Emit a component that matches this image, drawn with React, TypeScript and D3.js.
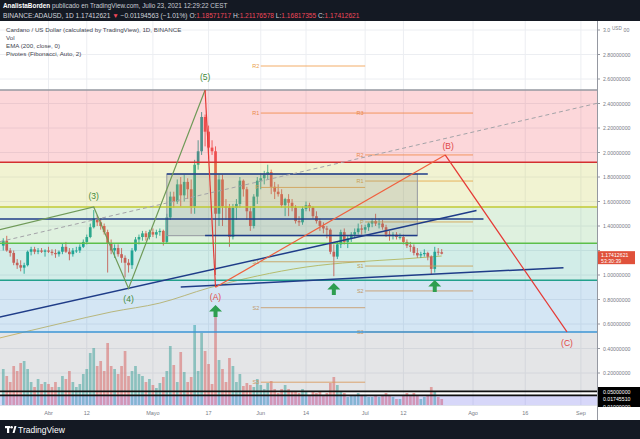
import { useEffect, useRef } from "react";
import * as d3 from "d3";

const W = 640;
const H = 439;

// ADA/USD daily candles from 2021-03-19 to 2021-07-23: [open, high, low, close]
const candleStart = "2021-03-19";
const candles = [
  [1.24, 1.30, 1.20, 1.28], [1.28, 1.32, 1.19, 1.20], [1.20, 1.22, 1.15, 1.18], [1.18, 1.20, 1.08, 1.10],
  [1.10, 1.13, 1.05, 1.08], [1.08, 1.12, 1.03, 1.06], [1.06, 1.10, 1.01, 1.08], [1.08, 1.20, 1.07, 1.19],
  [1.19, 1.23, 1.16, 1.21], [1.21, 1.23, 1.17, 1.19], [1.19, 1.22, 1.17, 1.20], [1.20, 1.22, 1.18, 1.19],
  [1.19, 1.21, 1.15, 1.20],
  // April
  [1.20, 1.23, 1.18, 1.19], [1.19, 1.21, 1.16, 1.18], [1.18, 1.21, 1.14, 1.17], [1.17, 1.20, 1.15, 1.19],
  [1.19, 1.26, 1.17, 1.23], [1.23, 1.27, 1.18, 1.19], [1.19, 1.22, 1.12, 1.17], [1.17, 1.22, 1.15, 1.20],
  [1.20, 1.23, 1.18, 1.20], [1.20, 1.25, 1.18, 1.23], [1.23, 1.29, 1.22, 1.27], [1.27, 1.33, 1.25, 1.31],
  [1.31, 1.42, 1.30, 1.39], [1.39, 1.53, 1.38, 1.46], [1.46, 1.49, 1.40, 1.43], [1.43, 1.46, 1.37, 1.40],
  [1.40, 1.42, 1.33, 1.35], [1.35, 1.37, 1.02, 1.26], [1.26, 1.29, 1.17, 1.20], [1.20, 1.25, 1.14, 1.22],
  [1.22, 1.25, 1.15, 1.17], [1.17, 1.22, 1.10, 1.14], [1.14, 1.16, 0.98, 1.10], [1.10, 1.13, 1.02, 1.08],
  [1.08, 1.22, 1.05, 1.20], [1.20, 1.31, 1.19, 1.29], [1.29, 1.33, 1.25, 1.31], [1.31, 1.36, 1.28, 1.34],
  [1.34, 1.36, 1.28, 1.31], [1.31, 1.37, 1.29, 1.35],
  // May
  [1.35, 1.38, 1.31, 1.33], [1.33, 1.37, 1.30, 1.35], [1.35, 1.38, 1.32, 1.36], [1.36, 1.37, 1.24, 1.27],
  [1.27, 1.50, 1.26, 1.47], [1.47, 1.68, 1.45, 1.64], [1.64, 1.68, 1.55, 1.60], [1.60, 1.78, 1.58, 1.74],
  [1.74, 1.80, 1.56, 1.65], [1.65, 1.82, 1.60, 1.76], [1.76, 1.79, 1.62, 1.70], [1.70, 1.78, 1.50, 1.56],
  [1.56, 1.94, 1.50, 1.90], [1.90, 2.10, 1.86, 2.01], [2.01, 2.33, 1.98, 2.29], [2.29, 2.31, 2.05, 2.17],
  [2.17, 2.22, 1.95, 2.04], [2.04, 2.10, 1.98, 2.01], [2.01, 2.05, 1.00, 1.50], [1.50, 1.82, 1.40, 1.78],
  [1.78, 1.82, 1.40, 1.56], [1.56, 1.62, 1.45, 1.55], [1.55, 1.58, 1.23, 1.31], [1.31, 1.58, 1.29, 1.55],
  [1.55, 1.62, 1.45, 1.58], [1.58, 1.80, 1.55, 1.77], [1.77, 1.78, 1.64, 1.70], [1.70, 1.72, 1.45, 1.52],
  [1.52, 1.56, 1.36, 1.40], [1.40, 1.66, 1.38, 1.64], [1.64, 1.80, 1.58, 1.77],
  // June
  [1.77, 1.83, 1.70, 1.79], [1.79, 1.85, 1.74, 1.82], [1.82, 1.90, 1.78, 1.84], [1.84, 1.86, 1.66, 1.72],
  [1.72, 1.76, 1.62, 1.68], [1.68, 1.74, 1.64, 1.66], [1.66, 1.70, 1.55, 1.57], [1.57, 1.63, 1.48, 1.62],
  [1.62, 1.66, 1.48, 1.59], [1.59, 1.62, 1.52, 1.55], [1.55, 1.57, 1.42, 1.44], [1.44, 1.48, 1.40, 1.43],
  [1.43, 1.56, 1.41, 1.54], [1.54, 1.60, 1.52, 1.57], [1.57, 1.59, 1.52, 1.55], [1.55, 1.56, 1.46, 1.48],
  [1.48, 1.52, 1.42, 1.44], [1.44, 1.46, 1.36, 1.40], [1.40, 1.43, 1.34, 1.38], [1.38, 1.40, 1.30, 1.37],
  [1.37, 1.38, 1.17, 1.19], [1.19, 1.25, 0.99, 1.15], [1.15, 1.27, 1.13, 1.25], [1.25, 1.37, 1.22, 1.35],
  [1.35, 1.38, 1.25, 1.27], [1.27, 1.32, 1.22, 1.30], [1.30, 1.35, 1.27, 1.33], [1.33, 1.38, 1.30, 1.35],
  [1.35, 1.42, 1.33, 1.38], [1.38, 1.41, 1.33, 1.37],
  // July
  [1.37, 1.41, 1.34, 1.39], [1.39, 1.43, 1.36, 1.42], [1.42, 1.46, 1.39, 1.44], [1.44, 1.50, 1.40, 1.42],
  [1.42, 1.46, 1.38, 1.42], [1.42, 1.45, 1.37, 1.39], [1.39, 1.41, 1.31, 1.33], [1.33, 1.36, 1.28, 1.32],
  [1.32, 1.35, 1.29, 1.33], [1.33, 1.35, 1.29, 1.31], [1.31, 1.34, 1.29, 1.31], [1.31, 1.33, 1.25, 1.27],
  [1.27, 1.29, 1.22, 1.24], [1.24, 1.27, 1.19, 1.23], [1.23, 1.25, 1.16, 1.18], [1.18, 1.22, 1.14, 1.16],
  [1.16, 1.19, 1.14, 1.17], [1.17, 1.21, 1.15, 1.18], [1.18, 1.19, 1.12, 1.15], [1.15, 1.16, 1.00, 1.05],
  [1.05, 1.23, 1.02, 1.19], [1.19, 1.22, 1.16, 1.18607184], [1.18571717, 1.21176578, 1.16817355, 1.17412621],
];

// daily volume (millions ADA), same days as candles
const volumes = [
  360, 290, 230, 390, 340, 420, 440, 360, 230, 180, 260, 210, 230,
  210, 180, 230, 180, 290, 260, 340, 230, 180, 210, 310, 360, 520, 570, 390, 440, 340, 620, 390, 360, 310, 390,
  540, 290, 340, 390, 310, 290, 230, 260,
  200, 170, 220, 280, 340, 590, 400, 230, 530, 330, 230, 280, 800, 340, 720, 540, 410, 210, 960, 450, 360, 230,
  470, 390, 230, 310, 190, 220, 200, 180, 260,
  200, 160, 220, 240, 160, 120, 160, 200, 160, 140, 140, 120, 160, 140, 100, 140, 120, 140, 100, 120, 220, 280,
  200, 140, 120, 80, 100, 100, 120, 100,
  100, 80, 80, 100, 80, 100, 120, 100, 80, 60, 60, 100, 120, 100, 120, 100, 60, 80, 100, 180, 140, 80, 60,
];

// EMA(200) read at a few dates
const emaDates = ["2021-03-18", "2021-04-05", "2021-04-19", "2021-05-03", "2021-05-17", "2021-05-31", "2021-06-14", "2021-06-28", "2021-07-12", "2021-07-23"];
const emaValues = [0.486, 0.608, 0.698, 0.771, 0.894, 0.992, 1.065, 1.106, 1.131, 1.155];

// Fibonacci retracement drawing levels (top to bottom)
const fibPrices = [2.51, 1.92, 1.555, 1.259, 0.957, 0.535, 0.053];
const extraLines = [0.05, 0.0174551];

// monthly Fibonacci pivots
const pivotJuneNames = ["R2", "R1", "P", "S1", "S2", "S3"];
const pivotJuneValues = [2.706, 2.322, 1.715, 1.108, 0.733, 0.125];
const pivotJulyNames = ["R3", "R2", "R1", "P", "S1", "S2", "S3"];
const pivotJulyValues = [2.322, 1.98, 1.767, 1.433, 1.073, 0.87, 0.535];

// Elliott waves
const waveDates = ["2021-03-18", "2021-04-14", "2021-04-24", "2021-05-16"];
const waveValues = [1.37, 1.555, 0.89, 2.51];
const waveLabels = ["", "(3)", "(4)", "(5)"];
const abcDates = ["2021-05-16", "2021-05-19", "2021-07-24", "2021-08-28"];
const abcValues = [2.51, 0.9, 1.98, 0.535];
const abcLabels = ["", "(A)", "(B)", "(C)"];

// other drawings
const channelDates = ["2021-03-18", "2021-08-02"];
const channelValues = [0.657, 1.526];
const supportDates = ["2021-05-09", "2021-08-27"];
const supportValues = [0.902, 1.06];
const dashedDates = ["2021-03-18", "2021-09-06"];
const dashedValues = [1.272, 2.404];
const boxDates = ["2021-05-05", "2021-07-16"];
const boxValues = [1.824, 1.321];
const hLines = [
  { from: "2021-03-10", to: "2021-08-04", value: 1.457 },
  { from: "2021-05-05", to: "2021-07-19", value: 1.824 },
  { from: "2021-05-16", to: "2021-07-16", value: 1.322 },
];
const arrowDates = ["2021-05-19", "2021-06-22", "2021-07-21"];
const arrowValues = [0.755, 0.935, 0.959];

const tickDates = ["2021-04-01", "2021-04-12", "2021-05-01", "2021-05-17", "2021-06-01", "2021-06-14", "2021-07-01", "2021-07-12", "2021-08-01", "2021-08-16", "2021-09-01"];
const tickLabels = ["Abr", "12", "Mayo", "17", "Jun", "14", "Jul", "12", "Ago", "16", "Sep"];
const priceTicks = [0.2, 0.4, 0.6, 0.8, 1.0, 1.2, 1.4, 1.6, 1.8, 2.0, 2.2, 2.4, 2.6, 2.8, 3.0];

const FONT = "'Liberation Sans', Arial, sans-serif";
const UP = "#26a69a";
const DOWN = "#ef5350";
const fibLineColors = ["#9598a1", "#d32f2f", "#c0ca33", "#5cbf4a", "#22a08c", "#3d95d4"];
const fibFillColors = ["rgba(242,54,69,0.2)", "rgba(192,202,51,0.22)", "rgba(76,175,80,0.18)", "rgba(8,153,129,0.18)", "rgba(41,128,200,0.2)", "rgba(120,123,134,0.2)"];
const NAVY = "#1f3c88";

export default function App() {
  const ref = useRef<SVGSVGElement>(null);

  useEffect(() => {
    const svg = d3.select(ref.current);
    svg.selectAll("*").remove();
    const parse = d3.utcParse("%Y-%m-%d");
    const day = (s: string) => parse(s) as Date;

    const plotR = 597;
    const plotT = 21;
    const plotB = 405;

    const x = d3.scaleUtc().domain([day("2021-04-01"), day("2021-09-01")]).range([48.5, 580.9]);
    const y = d3.scaleLinear().domain([1, 2]).range([275, 152.5]);
    const yVol = d3.scaleLinear().domain([0, 1000]).range([plotB, plotB - 100]);

    const start = day(candleStart);
    const bars = candles.map((c, i) => ({
      date: d3.utcDay.offset(start, i),
      o: c[0], h: c[1], l: c[2], c: c[3],
      v: volumes[i],
    }));

    // page
    svg.append("rect").attr("width", W).attr("height", H).attr("fill", "#ffffff");

    const defs = svg.append("defs");
    defs.append("clipPath").attr("id", "plot")
      .append("rect").attr("x", 0).attr("y", plotT).attr("width", plotR).attr("height", plotB - plotT);

    const g = svg.append("g").attr("clip-path", "url(#plot)");

    // grid
    g.selectAll(".vg").data(tickDates).join("line")
      .attr("x1", (d) => x(day(d))).attr("x2", (d) => x(day(d)))
      .attr("y1", plotT).attr("y2", plotB)
      .attr("stroke", "#eceef2").attr("stroke-width", 1);
    g.selectAll(".hg").data(priceTicks).join("line")
      .attr("x1", 0).attr("x2", plotR)
      .attr("y1", (d) => y(d)).attr("y2", (d) => y(d))
      .attr("stroke", "#eceef2").attr("stroke-width", 1);

    // volume
    const cw = 2.7;
    g.selectAll(".vol").data(bars).join("rect")
      .attr("x", (d) => x(d.date) - cw / 2)
      .attr("width", cw)
      .attr("y", (d) => yVol(d.v))
      .attr("height", (d) => plotB - yVol(d.v))
      .attr("fill", (d) => (d.c >= d.o ? UP : DOWN))
      .attr("opacity", 0.5);

    // EMA
    const ema = d3.line<number>()
      .x((_, i) => x(day(emaDates[i])))
      .y((d) => y(d))
      .curve(d3.curveMonotoneX);
    g.append("path").datum(emaValues).attr("d", ema)
      .attr("fill", "none").attr("stroke", "#dcc46a").attr("stroke-width", 1);

    // candles
    g.selectAll(".wick").data(bars).join("line")
      .attr("x1", (d) => x(d.date)).attr("x2", (d) => x(d.date))
      .attr("y1", (d) => y(d.h)).attr("y2", (d) => y(d.l))
      .attr("stroke", (d) => (d.c >= d.o ? UP : DOWN)).attr("stroke-width", 0.9);
    g.selectAll(".body").data(bars).join("rect")
      .attr("x", (d) => x(d.date) - cw / 2)
      .attr("width", cw)
      .attr("y", (d) => y(Math.max(d.o, d.c)))
      .attr("height", (d) => Math.max(0.9, Math.abs(y(d.o) - y(d.c))))
      .attr("fill", (d) => (d.c >= d.o ? UP : DOWN));

    // pivots
    const pivots = (names: string[], values: number[], from: string, to: string) => {
      const x0 = x(day(from));
      const x1 = x(day(to));
      values.forEach((v, i) => {
        g.append("line").attr("x1", x0).attr("x2", x1).attr("y1", y(v)).attr("y2", y(v))
          .attr("stroke", "#f3a04e").attr("stroke-width", 1).attr("opacity", 0.85);
        g.append("text").attr("x", x0 - 1.5).attr("y", y(v) + 2)
          .attr("text-anchor", "end").attr("font-family", FONT).attr("font-size", 5.5)
          .attr("fill", "#e9a04c").text(names[i]);
      });
    };
    pivots(pivotJuneNames, pivotJuneValues, "2021-06-01", "2021-07-01");
    pivots(pivotJulyNames, pivotJulyValues, "2021-07-01", "2021-08-01");

    // fib fills
    for (let i = 0; i < fibPrices.length - 1; i++) {
      g.append("rect").attr("x", 0).attr("width", plotR)
        .attr("y", y(fibPrices[i])).attr("height", y(fibPrices[i + 1]) - y(fibPrices[i]))
        .attr("fill", fibFillColors[i]);
    }
    g.append("rect").attr("x", 0).attr("width", plotR)
      .attr("y", y(extraLines[1])).attr("height", plotB - y(extraLines[1]))
      .attr("fill", "rgba(96,96,230,0.25)");

    // box
    g.append("rect")
      .attr("x", x(day(boxDates[0]))).attr("width", x(day(boxDates[1])) - x(day(boxDates[0])))
      .attr("y", y(boxValues[0])).attr("height", y(boxValues[1]) - y(boxValues[0]))
      .attr("fill", "rgba(120,123,134,0.2)").attr("stroke", "#9598a1").attr("stroke-width", 1);

    // fib lines
    fibPrices.slice(0, 6).forEach((p, i) => {
      g.append("line").attr("x1", 0).attr("x2", plotR).attr("y1", y(p)).attr("y2", y(p))
        .attr("stroke", fibLineColors[i]).attr("stroke-width", 1.5);
    });
    extraLines.forEach((p) => {
      g.append("line").attr("x1", 0).attr("x2", plotR).attr("y1", y(p)).attr("y2", y(p))
        .attr("stroke", "#111").attr("stroke-width", 1.6);
    });

    // horizontal navy lines
    hLines.forEach((l) => {
      g.append("line").attr("x1", x(day(l.from))).attr("x2", x(day(l.to)))
        .attr("y1", y(l.value)).attr("y2", y(l.value))
        .attr("stroke", NAVY).attr("stroke-width", 1.5);
    });

    const seg = (dates: string[], values: number[]) =>
      d3.line<number>().x((_, i) => x(day(dates[i]))).y((d) => y(d))(values);

    g.append("path").attr("d", seg(dashedDates, dashedValues))
      .attr("fill", "none").attr("stroke", "#a3a3a8").attr("stroke-width", 1).attr("stroke-dasharray", "4,3");
    g.append("path").attr("d", seg(channelDates, channelValues))
      .attr("fill", "none").attr("stroke", NAVY).attr("stroke-width", 1.5);
    g.append("path").attr("d", seg(supportDates, supportValues))
      .attr("fill", "none").attr("stroke", NAVY).attr("stroke-width", 1.5);

    // waves
    g.append("path").attr("d", seg(waveDates, waveValues))
      .attr("fill", "none").attr("stroke", "#6f9a58").attr("stroke-width", 1.2);
    const abcColors = ["#e53935", "#f0603e", "#e53935"];
    for (let i = 0; i < abcDates.length - 1; i++) {
      g.append("path").attr("d", seg(abcDates.slice(i, i + 2), abcValues.slice(i, i + 2)))
        .attr("fill", "none").attr("stroke", abcColors[i]).attr("stroke-width", 1.2);
    }
    const waveOffsets = [0, -8, 14, -10];
    waveLabels.forEach((t, i) => {
      if (!t) return;
      g.append("text").attr("x", x(day(waveDates[i]))).attr("y", y(waveValues[i]) + waveOffsets[i])
        .attr("text-anchor", "middle").attr("font-family", FONT).attr("font-size", 8.5)
        .attr("fill", "#3f8a3a").text(t);
    });
    const abcOffsets = [0, 13, -6, 14];
    abcLabels.forEach((t, i) => {
      if (!t) return;
      g.append("text").attr("x", x(day(abcDates[i])) + (i === 2 ? 3 : 0)).attr("y", y(abcValues[i]) + abcOffsets[i])
        .attr("text-anchor", "middle").attr("font-family", FONT).attr("font-size", 8.5)
        .attr("fill", "#e04646").text(t);
    });

    // arrows
    arrowDates.forEach((d, i) => {
      const cx = x(day(d));
      const t = y(arrowValues[i]);
      g.append("path")
        .attr("d", `M${cx},${t} L${cx + 6.5},${t + 6.5} L${cx + 2},${t + 6.5} L${cx + 2},${t + 12} L${cx - 2},${t + 12} L${cx - 2},${t + 6.5} L${cx - 6.5},${t + 6.5} Z`)
        .attr("fill", "#2e9e4f");
    });

    // legend
    const legend = ["Cardano / US Dollar (calculated by TradingView), 1D, BINANCE", "Vol", "EMA (200, close, 0)", "Pivotes (Fibonacci, Auto, 2)"];
    legend.forEach((t, i) => {
      svg.append("text").attr("x", 6).attr("y", 31.5 + i * 8.2)
        .attr("font-family", FONT).attr("font-size", 6.2).attr("fill", "#434651").text(t);
    });

    // last price tag position
    const last = bars[bars.length - 1];
    const tagY = y(last.c) - 2.5;

    // price axis
    svg.append("line").attr("x1", plotR + 0.5).attr("x2", plotR + 0.5).attr("y1", plotT).attr("y2", 420)
      .attr("stroke", "#9598a1").attr("stroke-width", 1);
    priceTicks.forEach((p) => {
      svg.append("line").attr("x1", plotR).attr("x2", plotR + 3).attr("y1", y(p)).attr("y2", y(p))
        .attr("stroke", "#9598a1");
      if (y(p) > tagY - 3 && y(p) < tagY + 16) return;
      if (p === 3.0) {
        // top label is split by the currency badge
        svg.append("text").attr("x", 603).attr("y", y(p) + 2)
          .attr("font-family", FONT).attr("font-size", 5.2).attr("fill", "#787b86").text("3.0");
        svg.append("text").attr("x", 612).attr("y", y(p) - 0.5)
          .attr("font-family", FONT).attr("font-size", 4.6).attr("fill", "#787b86").text("USD");
        svg.append("text").attr("x", 623.5).attr("y", y(p) + 2)
          .attr("font-family", FONT).attr("font-size", 5.2).attr("fill", "#787b86").text("00");
        return;
      }
      svg.append("text").attr("x", 603).attr("y", y(p) + 2)
        .attr("font-family", FONT).attr("font-size", 5.2).attr("fill", "#787b86")
        .text(p.toFixed(8));
    });

    // last price tag
    svg.append("rect").attr("x", plotR + 1).attr("y", tagY).attr("width", 37).attr("height", 13)
      .attr("fill", "#e0513b");
    svg.append("text").attr("x", plotR + 4).attr("y", tagY + 5.5)
      .attr("font-family", FONT).attr("font-size", 5.2).attr("fill", "#fff").text(last.c.toFixed(8));
    svg.append("text").attr("x", plotR + 4).attr("y", tagY + 11.5)
      .attr("font-family", FONT).attr("font-size", 5.2).attr("fill", "#fff").text("53:30:39");

    // black level tags
    svg.append("rect").attr("x", plotR + 1).attr("y", 387).attr("width", W - plotR).attr("height", 20).attr("fill", "#000");
    ["0.05000000", "0.01745510", "0.01000000"].forEach((t, i) => {
      svg.append("text").attr("x", plotR + 6).attr("y", 393.5 + i * 7.5)
        .attr("font-family", FONT).attr("font-size", 5.2).attr("fill", "#fff").text(t);
    });

    // time axis
    svg.append("rect").attr("x", 0).attr("y", plotB).attr("width", plotR).attr("height", 15).attr("fill", "#fff");
    svg.append("line").attr("x1", 0).attr("x2", plotR).attr("y1", plotB + 0.5).attr("y2", plotB + 0.5)
      .attr("stroke", "#e0e3eb");
    tickDates.forEach((d, i) => {
      svg.append("text").attr("x", x(day(d))).attr("y", 414.5).attr("text-anchor", "middle")
        .attr("font-family", FONT).attr("font-size", 5.5).attr("fill", "#787b86").text(tickLabels[i]);
    });

    // header
    svg.append("rect").attr("width", W).attr("height", plotT).attr("fill", "#141923");
    const h1 = svg.append("text").attr("x", 3).attr("y", 8).attr("font-family", FONT).attr("font-size", 6.4).attr("fill", "#c9ccd4");
    h1.append("tspan").attr("font-weight", "bold").attr("fill", "#ffffff").text("AnalistaBorden");
    h1.append("tspan").text(" publicado en TradingView.com, Julio 23, 2021 12:29:22 CEST");
    const h2 = svg.append("text").attr("x", 3).attr("y", 17.5).attr("font-family", FONT).attr("font-size", 6.6).attr("fill", "#d1d4dc");
    const red = "#f0485a";
    const parts: [string, string][] = [
      ["BINANCE:ADAUSD, 1D  1.17412621 ", "#d1d4dc"],
      ["\u25BC", red],
      [" \u22120.01194563 (\u22121.01%) O:", "#d1d4dc"],
      ["1.18571717", red],
      [" H:", "#d1d4dc"],
      ["1.21176578", red],
      [" L:", "#d1d4dc"],
      ["1.16817355", red],
      [" C:", "#d1d4dc"],
      ["1.17412621", red],
    ];
    parts.forEach(([t, c]) => h2.append("tspan").attr("fill", c).text(t));

    // footer
    svg.append("rect").attr("y", 420).attr("width", W).attr("height", H - 420).attr("fill", "#141923");
    svg.append("rect").attr("x", 5).attr("y", 426).attr("width", 5).attr("height", 2.2).attr("fill", "#fff");
    svg.append("rect").attr("x", 7).attr("y", 426).attr("width", 2.2).attr("height", 7).attr("fill", "#fff");
    svg.append("circle").attr("cx", 11.6).attr("cy", 427.3).attr("r", 1.3).attr("fill", "#fff");
    svg.append("path").attr("d", "M12.5,433 L14.5,426 L16.5,426 L14.5,433 Z").attr("fill", "#fff");
    svg.append("text").attr("x", 18).attr("y", 433).attr("font-family", FONT).attr("font-size", 8.5)
      .attr("fill", "#ffffff").text("TradingView");
  }, []);

  return (
    <svg ref={ref} width={W} height={H} style={{ position: "absolute", left: 0, top: 0, display: "block" }} />
  );
}
